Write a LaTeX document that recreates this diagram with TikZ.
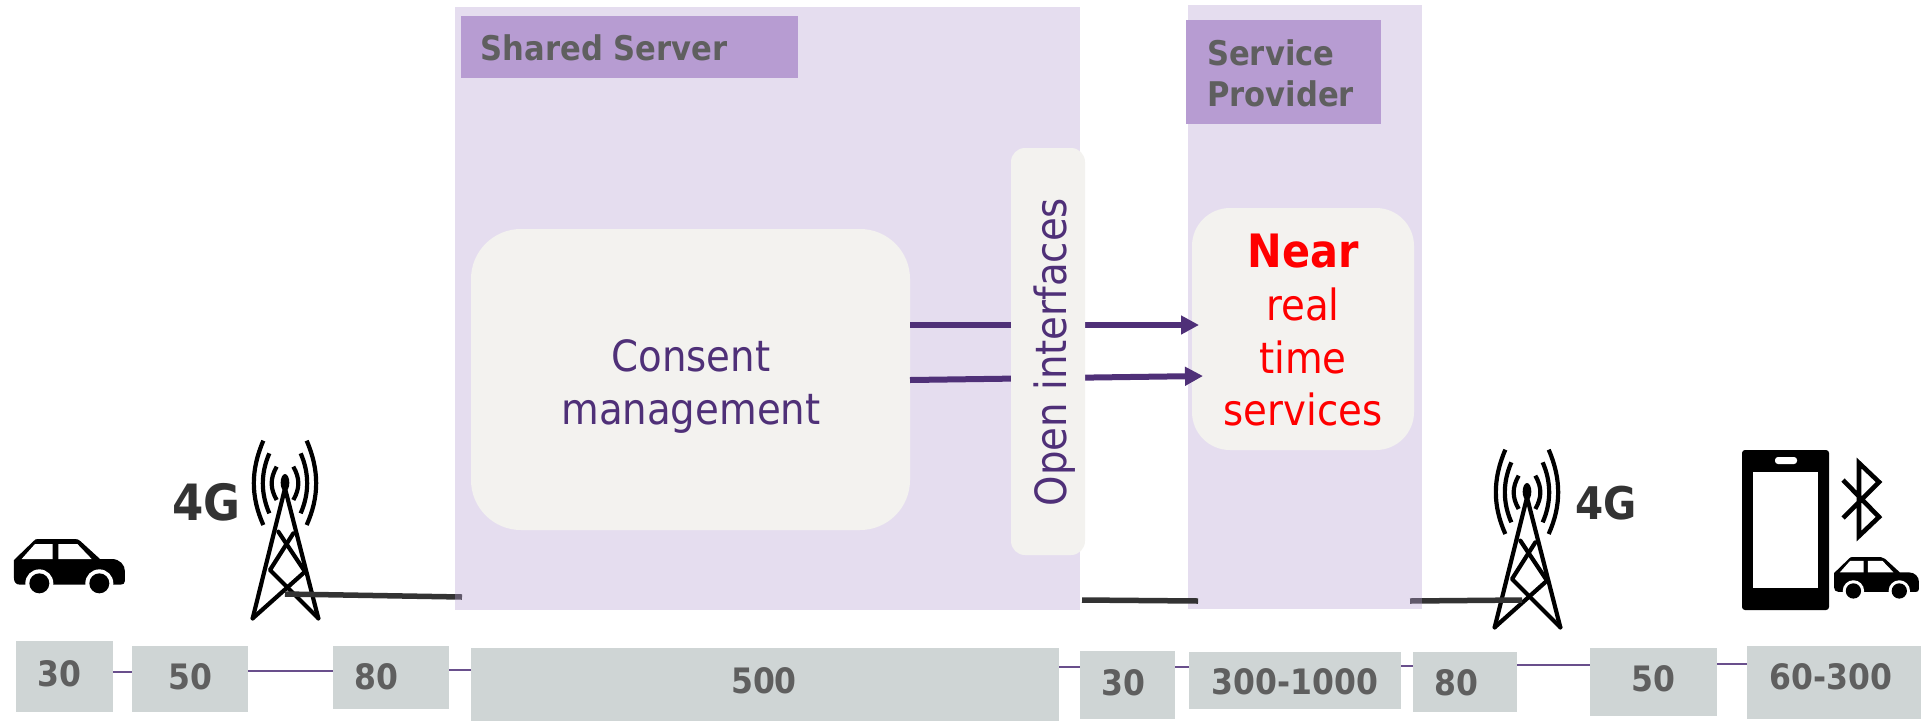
\documentclass[tikz,border=0pt]{standalone}
\usepackage{fontspec}
\setmainfont{DejaVu Sans Condensed}
\usetikzlibrary{arrows.meta}
\definecolor{panelc}{HTML}{B59ED1}
\definecolor{labelc}{HTML}{B79CD2}
\definecolor{softc}{HTML}{F3F2EF}
\definecolor{grayc}{HTML}{CFD5D5}
\definecolor{txtc}{HTML}{5F5F5F}
\definecolor{purc}{HTML}{4F3078}
\definecolor{darkc}{HTML}{333333}
\newcommand{\bx}[6]{\node[#2,inner sep=0pt,outer sep=0pt,minimum width={(#5-#3)*1pt},minimum height={(#6-#4)*1pt},anchor=north west] (#1) at (#3,#4) {};}
\tikzset{
 panel/.style={fill=panelc,fill opacity=.35},
 lab/.style={fill=labelc},
 softbox/.style={fill=softc,rounded corners=#1},
 graybox/.style={fill=grayc},
 numtext/.style={font=\fontsize{35}{42}\selectfont\bfseries,text=txtc,inner sep=0pt},
 headtext/.style={font=\fontsize{34}{41}\selectfont\bfseries,text=txtc,inner sep=0pt,align=left},
 bodytext/.style={font=\fontsize{43}{53}\selectfont,text=purc,inner sep=0pt,align=center},
 neartext/.style={font=\fontsize{43}{53}\selectfont,text=red,inner sep=0pt,align=center},
 gtext/.style={font=\fontsize{#1}{#1}\selectfont\bfseries,text=darkc,inner sep=0pt},
 thinline/.style={draw=purc!85,line width=1.2pt},
 fatline/.style={draw=darkc,line width=5.5pt},
 flow/.style={draw=purc,line width=6pt,-{Triangle[length=18pt,width=18pt]}},
 carpic/.pic={
  \fill[black] (42,440) -- (42,420) -- (100,364) .. controls (104,358) and (108,357) .. (115,357)
    -- (225,357) .. controls (232,357) and (237,359) .. (242,364) -- (300,417) -- (335,417)
    .. controls (360,417) and (375,435) .. (375,455) -- (375,482) .. controls (375,490) and (370,494) .. (362,494)
    -- (60,494) .. controls (48,494) and (42,486) .. (42,475) -- cycle;
  \fill[white] (65,417) -- (105,372) -- (158,372) -- (158,417) -- cycle;
  \fill[white] (175,372) -- (232,372) -- (275,417) -- (175,417) -- cycle;
  \fill[white] (118,490) circle[radius=42];
  \fill[white] (298,490) circle[radius=42];
  \fill[white] (60,494) rectangle (362,500);
  \fill[black] (118,490) circle[radius=30];
  \fill[black] (298,490) circle[radius=30];
 },
 towerpic/.pic={
  \begin{scope}[shift={(-855,-60)},line cap=round,line join=round]
  \fill[black] (855,188) ellipse[x radius=13,y radius=26];
  \draw[black,line width=4.2pt] (758,595) -- (855,205) -- (955,595);
  \draw[black,line width=4.2pt] (835,335) -- (915,455) -- (758,595);
  \draw[black,line width=4.2pt] (880,340) -- (810,450) -- (955,595);
  \foreach \sx in {1,-1}{
   \begin{scope}[shift={(855,0)},xscale=\sx,shift={(-855,0)},line cap=butt]
   \draw[black,line width=4.2pt] (790,62) .. controls (752,150) and (752,230) .. (790,315);
   \draw[black,line width=4.2pt] (808,100) .. controls (782,160) and (782,220) .. (808,280);
   \draw[black,line width=4.2pt] (830,140) .. controls (810,175) and (810,205) .. (830,240);
   \end{scope}
  }
  \end{scope}
 }
}
\begin{document}
\begin{tikzpicture}[x=1pt,y=-1pt]
\useasboundingbox (0,0) rectangle (1921,721);
% icons
\pic[scale=1/3] at (0,420) {carpic};
\pic[scale=1/3] at (285,440) {towerpic};
\pic[scale=1/3] at (1527,449) {towerpic};
\pic[scale=.255] at (1823.3,466) {carpic};
\fill[black,rounded corners=3pt] (1742,450) rectangle (1829,610);
\fill[white] (1753,472) rectangle (1818,588);
\fill[white,rounded corners=3pt] (1775,457) rectangle (1797,464);
\draw[black,line width=4.6pt,miter limit=10] (1843,480) -- (1879,517) -- (1859,536) -- (1859,463) -- (1879,482) -- (1843,518);
\node[gtext=50,anchor=base west] (g1) at (172,520) {4G};
\node[gtext=45,anchor=base west] (g2) at (1575,519) {4G};
% connectors under the panels
\coordinate (t1) at (285,594);
\coordinate (s1) at (462,597);
\coordinate (s3) at (1410,601);
\coordinate (t3) at (1522,600);
\draw[fatline] (t1) -- (s1);
\draw[fatline] (s3) -- (t3);
% panels
\bx{shared}{panel}{455}{7}{1080}{610}
\bx{provider}{panel}{1188}{5}{1422}{609}
\bx{sharedlab}{lab}{461}{16}{798}{78}
\bx{provlab}{lab}{1186}{20}{1381}{124}
\node[headtext,anchor=base] (sharedt) at (604,60) {Shared Server};
\node[headtext,anchor=base west] (provt1) at (1207,65) {Service};
\node[headtext,anchor=base west] (provt2) at (1207,106) {Provider};
\bx{consent}{softbox=50pt}{471}{229}{910}{530}
\bx{near}{softbox=38pt}{1192}{208}{1414}{450}
\node[bodytext] (consentt) at (691,387) {Consent\\management};
\node[neartext,anchor=base,font=\fontsize{46}{53}\selectfont] (n1) at (1303,267) {\textbf{Near}};
\node[neartext,anchor=base] (n2) at (1303,320) {real};
\node[neartext,anchor=base] (n3) at (1303,373) {time};
\node[neartext,anchor=base] (n4) at (1303,425) {services};
% arrows
\coordinate (a1) at (1199,325);
\coordinate (a2) at (1203,376);
\draw[flow] (consent.east |- a1) -- (a1);
\draw[flow] (910,380) -- (a2);
\bx{open}{softbox=14pt}{1011}{148}{1085}{555}
\node[bodytext,rotate=90,anchor=base] (opent) at (1066,352) {Open interfaces};
\coordinate (e2a) at (1082,600);
\coordinate (e2b) at (1198,601);
\draw[fatline] (e2a) -- (e2b);
% bottom row
\bx{b1}{graybox}{16}{641}{113}{712}
\bx{b2}{graybox}{132}{646}{248}{712}
\bx{b3}{graybox}{333}{646}{449}{709}
\bx{b4}{graybox}{471}{648}{1059}{721}
\bx{b5}{graybox}{1080}{651}{1175}{719}
\bx{b6}{graybox}{1189}{652}{1401}{709}
\bx{b7}{graybox}{1413}{652}{1517}{712}
\bx{b8}{graybox}{1590}{648}{1717}{716}
\bx{b9}{graybox}{1747}{646}{1921}{719}
\draw[thinline] (b1.east |- 0,672) -- (b2.west |- 0,672);
\draw[thinline] (b2.east |- 0,671) -- (b3.west |- 0,671);
\draw[thinline] (b3.east |- 0,670) -- (b4.west |- 0,670);
\draw[thinline] (b4.east |- 0,667) -- (b5.west |- 0,667);
\draw[thinline] (b5.east |- 0,667) -- (b6.west |- 0,667);
\draw[thinline] (b6.east |- 0,666) -- (b7.west |- 0,666);
\draw[thinline] (b7.east |- 0,665) -- (b8.west |- 0,665);
\draw[thinline] (b8.east |- 0,664) -- (b9.west |- 0,664);
\node[numtext] (l1) at (59,674) {30};
\node[numtext] (l2) at (190,677) {50};
\node[numtext] (l3) at (376,677) {80};
\node[numtext] (l4) at (764,681) {500};
\node[numtext] (l5) at (1123,683) {30};
\node[numtext] (l6) at (1295,682) {300-1000};
\node[numtext] (l7) at (1456,683) {80};
\node[numtext] (l8) at (1653,679) {50};
\node[numtext] (l9) at (1831,677) {60-300};
\end{tikzpicture}
\end{document}
